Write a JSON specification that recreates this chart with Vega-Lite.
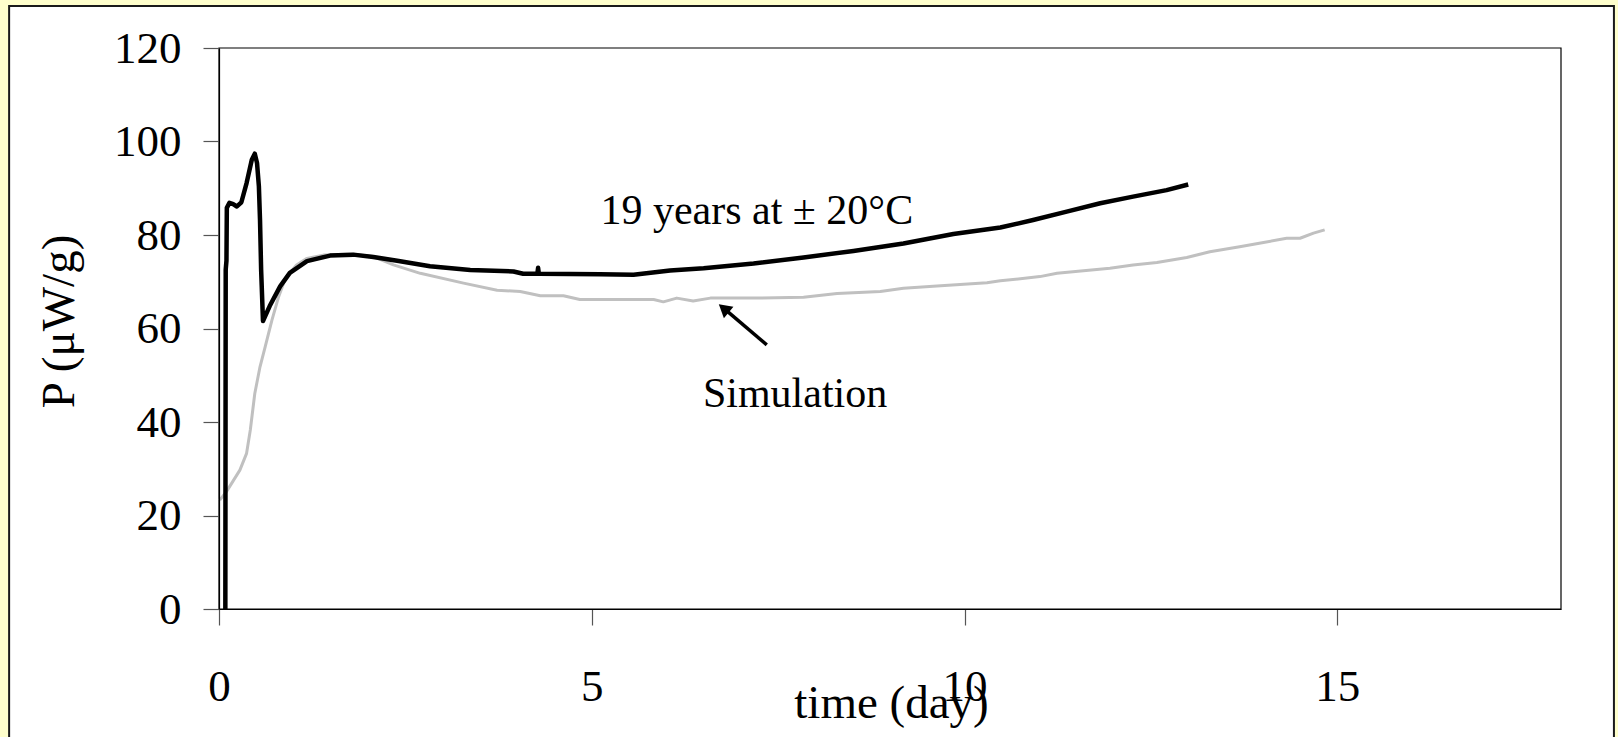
{
  "$schema": "https://vega.github.io/schema/vega-lite/v6.json",
  "width": 1342,
  "height": 561,
  "autosize": {"type": "none"},
  "padding": {"left": 219, "top": 48, "right": 57, "bottom": 128},
  "background": "#FFFFCC",
  "config": {
    "font": "Liberation Serif",
    "view": {"stroke": null},
    "axis": {"grid": false}
  },
  "datasets": {
    "measured": [
      {"t": 0.085, "p": 0}, {"t": 0.09, "p": 72.6}, {"t": 0.1, "p": 74.5}, {"t": 0.105, "p": 85.8},
      {"t": 0.14, "p": 86.9}, {"t": 0.19, "p": 86.6}, {"t": 0.24, "p": 86.1}, {"t": 0.3, "p": 87.0},
      {"t": 0.37, "p": 91.1}, {"t": 0.44, "p": 96.1}, {"t": 0.48, "p": 97.4}, {"t": 0.51, "p": 95.4},
      {"t": 0.535, "p": 90.4}, {"t": 0.55, "p": 83.3}, {"t": 0.565, "p": 72.6}, {"t": 0.59, "p": 61.6},
      {"t": 0.68, "p": 64.8}, {"t": 0.82, "p": 69.0}, {"t": 0.95, "p": 71.9}, {"t": 1.18, "p": 74.4},
      {"t": 1.49, "p": 75.6}, {"t": 1.8, "p": 75.8}, {"t": 2.07, "p": 75.3}, {"t": 2.39, "p": 74.5},
      {"t": 2.83, "p": 73.3}, {"t": 3.37, "p": 72.5}, {"t": 3.95, "p": 72.2}, {"t": 4.08, "p": 71.7},
      {"t": 4.27, "p": 71.7}, {"t": 4.28, "p": 73.0}, {"t": 4.29, "p": 71.7}, {"t": 5.11, "p": 71.6},
      {"t": 5.56, "p": 71.5}, {"t": 6.05, "p": 72.4}, {"t": 6.5, "p": 72.9}, {"t": 7.17, "p": 73.9},
      {"t": 7.84, "p": 75.2}, {"t": 8.51, "p": 76.6}, {"t": 9.18, "p": 78.2}, {"t": 9.85, "p": 80.2},
      {"t": 10.48, "p": 81.6}, {"t": 10.92, "p": 83.2}, {"t": 11.37, "p": 85.0}, {"t": 11.82, "p": 86.8},
      {"t": 12.26, "p": 88.2}, {"t": 12.71, "p": 89.6}, {"t": 13.0, "p": 90.8}
    ],
    "simulation": [
      {"t": 0.01, "p": 23.3}, {"t": 0.1, "p": 25.1}, {"t": 0.28, "p": 29.7}, {"t": 0.37, "p": 33.3},
      {"t": 0.42, "p": 38.3}, {"t": 0.48, "p": 46.1}, {"t": 0.55, "p": 51.8}, {"t": 0.62, "p": 56.1},
      {"t": 0.71, "p": 61.8}, {"t": 0.8, "p": 66.8}, {"t": 0.89, "p": 70.7}, {"t": 1.04, "p": 73.6},
      {"t": 1.18, "p": 75.0}, {"t": 1.4, "p": 75.7}, {"t": 1.71, "p": 75.9}, {"t": 1.8, "p": 75.9},
      {"t": 2.07, "p": 75.4}, {"t": 2.34, "p": 73.6}, {"t": 2.7, "p": 71.8}, {"t": 3.28, "p": 69.7},
      {"t": 3.73, "p": 68.2}, {"t": 4.04, "p": 67.9}, {"t": 4.31, "p": 67.0}, {"t": 4.62, "p": 67.0},
      {"t": 4.84, "p": 66.2}, {"t": 5.83, "p": 66.2}, {"t": 5.96, "p": 65.7}, {"t": 6.14, "p": 66.5},
      {"t": 6.36, "p": 65.9}, {"t": 6.59, "p": 66.5}, {"t": 7.17, "p": 66.5}, {"t": 7.84, "p": 66.7},
      {"t": 8.29, "p": 67.5}, {"t": 8.87, "p": 67.9}, {"t": 9.18, "p": 68.6}, {"t": 9.63, "p": 69.1},
      {"t": 10.3, "p": 69.8}, {"t": 10.48, "p": 70.2}, {"t": 11.01, "p": 71.1}, {"t": 11.24, "p": 71.8},
      {"t": 11.95, "p": 72.9}, {"t": 12.26, "p": 73.6}, {"t": 12.58, "p": 74.1}, {"t": 12.98, "p": 75.2},
      {"t": 13.29, "p": 76.4}, {"t": 13.69, "p": 77.5}, {"t": 14.01, "p": 78.4}, {"t": 14.32, "p": 79.3},
      {"t": 14.5, "p": 79.3}, {"t": 14.68, "p": 80.4}, {"t": 14.83, "p": 81.1}
    ],
    "labels": [
      {"t": 7.213, "p": 82.4, "label": "19 years at ± 20°C"},
      {"t": 7.727, "p": 43.3, "label": "Simulation"}
    ],
    "arrow": [{"t": 7.347, "p": 56.5, "t2": 6.78, "p2": 64.2}],
    "arrowhead": [{"t": 6.77, "p": 64.3}]
  },
  "layer": [
    {
      "data": {"values": [{"panel": "frame"}]},
      "mark": {"type": "rect", "fill": "#FFFFFF", "stroke": "#1a1a1a", "strokeWidth": 2, "clip": false},
      "encoding": {
        "x": {"datum": -2.815, "type": "quantitative", "scale": {"domain": [0, 18], "nice": false, "zero": false}, "title": "time (day)"},
        "x2": {"datum": 18.71},
        "y": {"datum": 129.0, "type": "quantitative", "scale": {"domain": [0, 120], "nice": false, "zero": false}, "title": "P (μW/g)"},
        "y2": {"datum": -28}
      }
    },
    {
      "data": {"values": [{"panel": "plot"}]},
      "mark": {"type": "rect", "fill": null, "stroke": "#000", "strokeWidth": 1.2, "clip": false},
      "encoding": {
        "x": {"datum": 0, "type": "quantitative", "title": "time (day)"},
        "x2": {"datum": 18},
        "y": {"datum": 120, "type": "quantitative", "title": "P (μW/g)"},
        "y2": {"datum": 0}
      }
    },
    {
      "encoding": {
        "x": {
          "field": "t",
          "type": "quantitative",
          "scale": {"domain": [0, 18], "nice": false, "zero": false},
          "axis": {
            "title": "time (day)",
            "format": "d",
            "zindex": 1,
            "values": [0, 5, 10, 15],
            "tickSize": 16,
            "tickColor": "#555",
            "tickWidth": 1.2,
            "domainColor": "#000",
            "domainWidth": 1.2,
            "labelPadding": 75,
            "labelBaseline": "alphabetic",
            "labelFlush": false,
            "labelOverlap": false,
            "labelFont": "Liberation Serif",
            "labelFontSize": 45,
            "labelColor": "#000",
            "titleFont": "Liberation Serif",
            "titleFontSize": 47,
            "titleFontWeight": "normal",
            "titleColor": "#000",
            "titleX": 672,
            "titleY": 108,
            "titleAlign": "center",
            "titleBaseline": "alphabetic"
          }
        },
        "y": {
          "field": "p",
          "type": "quantitative",
          "scale": {"domain": [0, 120], "nice": false, "zero": false},
          "axis": {
            "title": "P (μW/g)",
            "format": "d",
            "zindex": 1,
            "values": [0, 20, 40, 60, 80, 100, 120],
            "tickSize": 16,
            "tickColor": "#555",
            "tickWidth": 1.2,
            "domainColor": "#000",
            "domainWidth": 1.2,
            "labelPadding": 22,
            "labelFlush": false,
            "labelOverlap": false,
            "labelFont": "Liberation Serif",
            "labelFontSize": 45,
            "labelColor": "#000",
            "titleFont": "Liberation Serif",
            "titleFontSize": 47,
            "titleFontWeight": "normal",
            "titleColor": "#000",
            "titleAngle": -90,
            "titleX": -146,
            "titleY": 273,
            "titleAlign": "center",
            "titleBaseline": "alphabetic"
          }
        }
      },
      "layer": [
        {
          "data": {"name": "simulation"},
          "mark": {"type": "line", "color": "#C0C0C0", "strokeWidth": 3, "strokeJoin": "round"}
        },
        {
          "data": {"name": "measured"},
          "mark": {"type": "line", "color": "#000000", "strokeWidth": 4.5, "strokeJoin": "round"}
        },
        {
          "data": {"name": "labels"},
          "mark": {"type": "text", "font": "Liberation Serif", "fontSize": 42, "color": "#000", "align": "center", "baseline": "alphabetic"},
          "encoding": {"text": {"field": "label"}}
        },
        {
          "data": {"name": "arrow"},
          "mark": {"type": "rule", "color": "#000", "strokeWidth": 3.5},
          "encoding": {
            "x2": {"field": "t2"},
            "y2": {"field": "p2"}
          }
        },
        {
          "data": {"name": "arrowhead"},
          "mark": {"type": "point", "shape": "triangle-up", "filled": true, "size": 220, "angle": 310, "color": "#000", "opacity": 1}
        }
      ]
    }
  ]
}
